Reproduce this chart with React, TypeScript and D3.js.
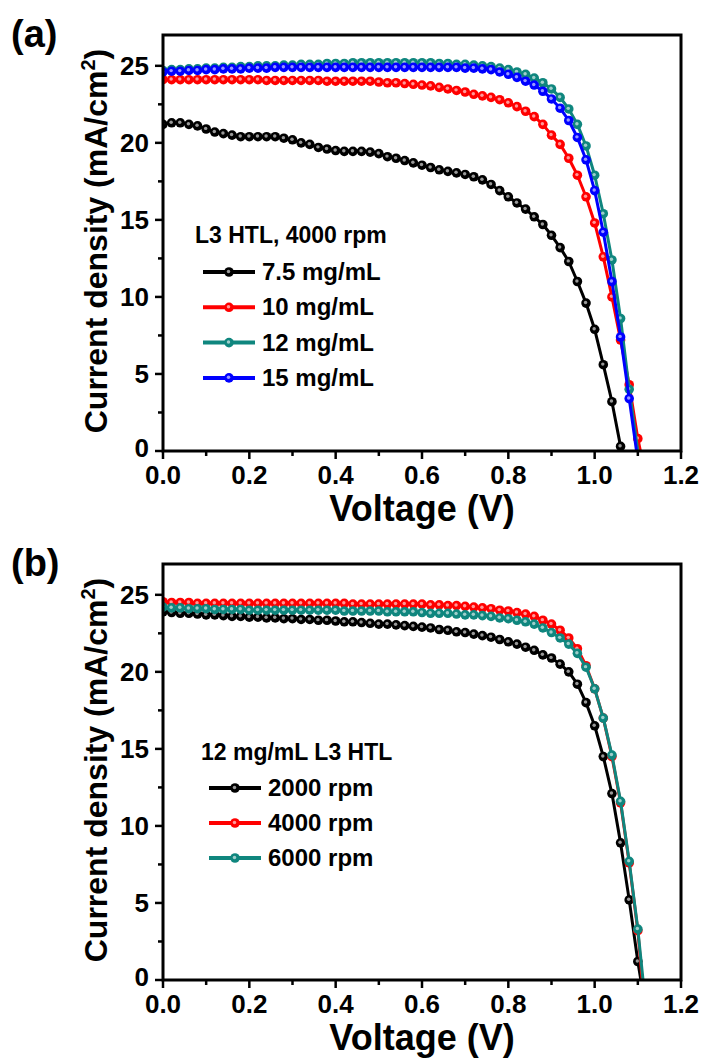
import React from "react";
import * as d3 from "d3";

// voltage sweep (V), one point every 20 mV
const voltage = [
  0, 0.02, 0.04, 0.06, 0.08, 0.1, 0.12, 0.14, 0.16, 0.18, 0.2, 0.22, 0.24, 0.26,
  0.28, 0.3, 0.32, 0.34, 0.36, 0.38, 0.4, 0.42, 0.44, 0.46, 0.48, 0.5, 0.52,
  0.54, 0.56, 0.58, 0.6, 0.62, 0.64, 0.66, 0.68, 0.7, 0.72, 0.74, 0.76, 0.78,
  0.8, 0.82, 0.84, 0.86, 0.88, 0.9, 0.92, 0.94, 0.96, 0.98, 1.0, 1.02, 1.04,
  1.06, 1.08, 1.1,
];

// (a) concentration series, current density mA/cm2
const jA75 = [
  21.2, 21.3, 21.3, 21.2, 21.1, 20.9, 20.7, 20.6, 20.5, 20.4,
  20.4, 20.4, 20.4, 20.4, 20.3, 20.2, 20.0, 19.9, 19.7, 19.6,
  19.5, 19.45, 19.45, 19.45, 19.4, 19.3, 19.1, 19.0, 18.85, 18.7,
  18.55, 18.4, 18.25, 18.15, 18.05, 17.95, 17.8, 17.6, 17.3, 16.9,
  16.5, 16.1, 15.7, 15.2, 14.7, 14.0, 13.2, 12.3, 11.0, 9.6,
  7.9, 5.6, 3.2, 0.3,
];
const jA10 = [
  24.1, 24.1, 24.1, 24.1, 24.1, 24.1, 24.1, 24.1, 24.1, 24.1,
  24.1, 24.1, 24.05, 24.05, 24.05, 24.05, 24.05, 24.05, 24.05, 24.0,
  24.0, 24.0, 24.0, 24.0, 24.0, 23.95, 23.9, 23.9, 23.85, 23.8,
  23.75, 23.7, 23.6, 23.5, 23.4, 23.3, 23.15, 23.05, 22.95, 22.8,
  22.6, 22.35, 22.05, 21.7, 21.2, 20.5, 19.9, 19.0, 17.9, 16.5,
  14.8, 12.6, 10.0, 7.2, 4.3, 0.8,
];
const jA12 = [
  24.7, 24.75, 24.75, 24.8, 24.8, 24.85, 24.85, 24.9, 24.9, 24.95,
  24.95, 25.0, 25.0, 25.0, 25.05, 25.05, 25.1, 25.1, 25.1, 25.15,
  25.15, 25.15, 25.2, 25.2, 25.2, 25.2, 25.2, 25.2, 25.2, 25.2,
  25.2, 25.2, 25.15, 25.15, 25.1, 25.1, 25.05, 25.0, 24.95, 24.85,
  24.75, 24.6, 24.45, 24.2, 23.9, 23.5, 22.95, 22.2, 21.2, 19.8,
  17.9, 15.4, 12.4, 8.6, 4.0,
];
const jA15 = [
  24.6, 24.65, 24.65, 24.7, 24.7, 24.75, 24.75, 24.8, 24.8, 24.8,
  24.85, 24.85, 24.85, 24.9, 24.9, 24.9, 24.9, 24.9, 24.9, 24.9,
  24.9, 24.9, 24.9, 24.9, 24.9, 24.9, 24.9, 24.9, 24.9, 24.9,
  24.9, 24.9, 24.9, 24.9, 24.9, 24.85, 24.85, 24.8, 24.75, 24.6,
  24.45, 24.25, 24.0, 23.75, 23.35, 22.85, 22.25, 21.45, 20.35, 18.9,
  16.9, 14.2, 11.0, 7.4, 3.4,
];
const vocA = [1.063, 1.106, 1.1, 1.097];
const namesA = ["7.5 mg/mL", "10 mg/mL", "12 mg/mL", "15 mg/mL"];

// (b) spin speed series
const jB2000 = [
  23.9, 23.85, 23.8, 23.8, 23.75, 23.7, 23.7, 23.65, 23.6, 23.6,
  23.55, 23.55, 23.5, 23.5, 23.45, 23.45, 23.4, 23.4, 23.35, 23.35,
  23.3, 23.25, 23.25, 23.2, 23.15, 23.1, 23.1, 23.05, 23.0, 22.95,
  22.9, 22.85, 22.75, 22.7, 22.6, 22.55, 22.45, 22.35, 22.25, 22.1,
  21.95, 21.8, 21.6, 21.4, 21.1, 20.9, 20.5, 20.0, 19.2, 18.0,
  16.5, 14.5, 12.1, 8.9, 5.2, 1.2,
];
const jB4000 = [
  24.55, 24.5, 24.5, 24.5, 24.45, 24.45, 24.45, 24.45, 24.45, 24.45,
  24.45, 24.45, 24.45, 24.45, 24.45, 24.45, 24.45, 24.45, 24.45, 24.45,
  24.45, 24.45, 24.4, 24.4, 24.4, 24.4, 24.4, 24.4, 24.4, 24.4,
  24.4, 24.35, 24.35, 24.3, 24.3, 24.25, 24.2, 24.15, 24.1, 24.0,
  23.95, 23.85, 23.75, 23.6, 23.35, 23.1, 22.7, 22.2, 21.5, 20.4,
  18.9, 17.0, 14.5, 11.5, 7.6, 3.2,
];
const jB6000 = [
  24.2, 24.15, 24.15, 24.1, 24.1, 24.1, 24.05, 24.05, 24.05, 24.05,
  24.0, 24.0, 24.0, 24.0, 24.0, 24.0, 24.0, 24.0, 24.0, 24.0,
  24.0, 23.95, 23.95, 23.95, 23.95, 23.95, 23.9, 23.9, 23.9, 23.9,
  23.85, 23.8, 23.8, 23.8, 23.75, 23.7, 23.7, 23.65, 23.6, 23.5,
  23.45, 23.35, 23.25, 23.1, 22.85, 22.55, 22.2, 21.8, 21.2, 20.3,
  18.9, 17.0, 14.6, 11.6, 7.7, 3.3,
];
const vocB = [1.107, 1.11, 1.112];
const namesB = ["2000 rpm", "4000 rpm", "6000 rpm"];

const xTicks = [0, 0.2, 0.4, 0.6, 0.8, 1.0, 1.2];
const yTicks = [0, 5, 10, 15, 20, 25];

const BLACK = "#000000";
const RED = "#ff0000";
const TEAL = "#0f867e";
const BLUE = "#0000ff";
const FONT = "'Liberation Sans', Arial, Helvetica, sans-serif";

function Marker({ cx, cy, color, r = 4.8 }) {
  return (
    <g>
      <circle cx={cx} cy={cy} r={r} fill={color} />
      <circle cx={cx - 0.5} cy={cy - 0.6} r={r * 0.36} fill="#fff" opacity={0.6} />
    </g>
  );
}

function Panel({ top, label, legendTitle, legend, series }) {
  const left = 163;
  const right = 681;
  const h = 416;
  const x = d3.scaleLinear().domain([0, 1.2]).range([left, right]);
  const y = d3.scaleLinear().domain([0, 27]).range([top + h, top]);
  const line = d3
    .line()
    .x((d) => x(d[0]))
    .y((d) => y(d[1]));
  const clipId = "clip" + label.replace(/\W/g, "");
  const minorX = xTicks.slice(0, -1).map((d) => d + 0.1);
  const minorY = yTicks.map((d) => d + 2.5).filter((d) => d < 27);

  return (
    <g>
      <defs>
        <clipPath id={clipId}>
          <rect x={left} y={top} width={right - left} height={h} />
        </clipPath>
      </defs>
      <text x={11} y={top + 12} fontFamily={FONT} fontWeight="bold" fontSize={38}>
        {label}
      </text>

      <g clipPath={`url(#${clipId})`}>
        {series.map((s) => {
          const pts = s.j.map((v, i) => [voltage[i], v]);
          return (
            <g key={s.name}>
              <path
                d={line([...pts, [s.voc, 0]])}
                fill="none"
                stroke={s.color}
                strokeWidth={3}
                strokeLinejoin="round"
              />
              {pts.map((p, i) => (
                <Marker key={i} cx={x(p[0])} cy={y(p[1])} color={s.color} />
              ))}
            </g>
          );
        })}
      </g>

      {/* frame */}
      <rect
        x={left}
        y={top}
        width={right - left}
        height={h}
        fill="none"
        stroke="#000"
        strokeWidth={3}
      />

      {/* x axis */}
      {xTicks.map((t) => (
        <g key={t}>
          <line x1={x(t)} x2={x(t)} y1={top + h} y2={top + h + 8} stroke="#000" strokeWidth={2.5} />
          <text
            x={x(t)}
            y={top + h + 33}
            textAnchor="middle"
            fontFamily={FONT}
            fontWeight="bold"
            fontSize={26}
          >
            {d3.format(".1f")(t)}
          </text>
        </g>
      ))}
      {minorX.map((t) => (
        <line key={t} x1={x(t)} x2={x(t)} y1={top + h} y2={top + h + 5} stroke="#000" strokeWidth={2.5} />
      ))}
      <text
        x={(left + right) / 2}
        y={top + h + 70}
        textAnchor="middle"
        fontFamily={FONT}
        fontWeight="bold"
        fontSize={36}
      >
        Voltage (V)
      </text>

      {/* y axis */}
      {yTicks.map((t) => (
        <g key={t}>
          <line x1={left - 8} x2={left} y1={y(t)} y2={y(t)} stroke="#000" strokeWidth={2.5} />
          <text
            x={left - 14}
            y={y(t) + (t === 0 ? 6 : 9)}
            textAnchor="end"
            fontFamily={FONT}
            fontWeight="bold"
            fontSize={26}
          >
            {t}
          </text>
        </g>
      ))}
      {minorY.map((t) => (
        <line key={t} x1={left - 5} x2={left} y1={y(t)} y2={y(t)} stroke="#000" strokeWidth={2.5} />
      ))}
      <text
        transform={`translate(107,${top + h / 2 - 2}) rotate(-90)`}
        textAnchor="middle"
        fontFamily={FONT}
        fontWeight="bold"
        fontSize={32}
      >
        Current density (mA/cm
        <tspan dy={-12} fontSize={20}>2</tspan>
        <tspan dy={12}>)</tspan>
      </text>

      {/* legend */}
      <text
        x={legend.x - 8}
        y={top + legend.titleY + 8}
        fontFamily={FONT}
        fontWeight="bold"
        fontSize={23}
      >
        {legendTitle}
      </text>
      {series.map((s, i) => {
        const cy = top + legend.rowY + i * legend.gap;
        return (
          <g key={s.name}>
            <line x1={legend.x} x2={legend.x + 52} y1={cy} y2={cy} stroke={s.color} strokeWidth={4} />
            <Marker cx={legend.x + 26} cy={cy} color={s.color} r={4.8} />
            <text x={legend.x + 59} y={cy + 8} fontFamily={FONT} fontWeight="bold" fontSize={24}>
              {s.name}
            </text>
          </g>
        );
      })}
    </g>
  );
}

export default function App() {
  const seriesA = [jA75, jA10, jA12, jA15].map((j, i) => ({
    name: namesA[i],
    j,
    voc: vocA[i],
    color: [BLACK, RED, TEAL, BLUE][i],
  }));
  const seriesB = [jB2000, jB4000, jB6000].map((j, i) => ({
    name: namesB[i],
    j,
    voc: vocB[i],
    color: [BLACK, RED, TEAL][i],
  }));
  return (
    <svg
      width={705}
      height={1063}
      style={{ position: "absolute", left: 0, top: 0, background: "#fff" }}
    >
      <rect width={705} height={1063} fill="#fff" />
      <Panel
        top={35}
        label="(a)"
        legendTitle="L3 HTL, 4000 rpm"
        legend={{ x: 203, titleY: 200, rowY: 237, gap: 35.3 }}
        series={seriesA}
      />
      <Panel
        top={564}
        label="(b)"
        legendTitle="12 mg/mL L3 HTL"
        legend={{ x: 209, titleY: 188, rowY: 224, gap: 35 }}
        series={seriesB}
      />
    </svg>
  );
}
